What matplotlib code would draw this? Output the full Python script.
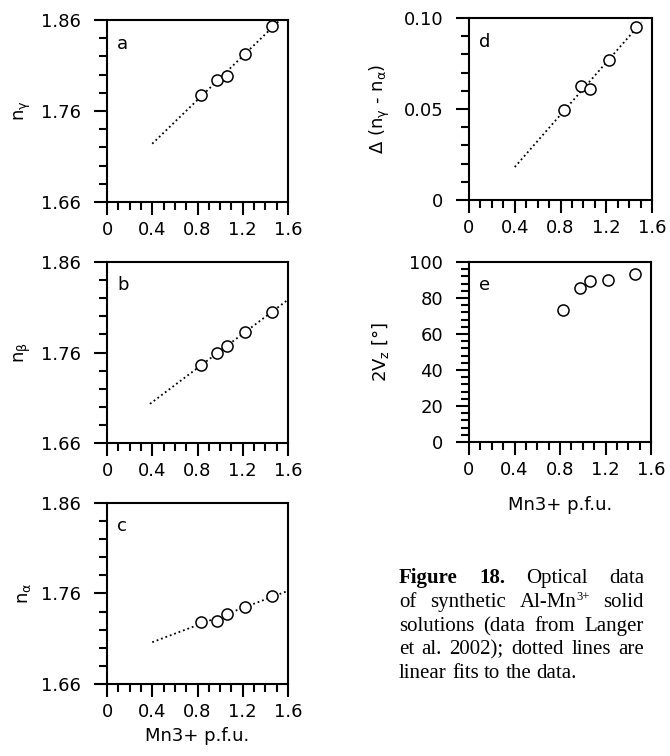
import matplotlib
matplotlib.use("Agg")
import matplotlib.pyplot as plt
import numpy as np
from matplotlib.ticker import MultipleLocator
from matplotlib.transforms import IdentityTransform

plt.rcParams["font.family"] = ["DejaVu Sans"]
plt.rcParams["mathtext.fontset"] = "custom"
plt.rcParams["mathtext.rm"] = "DejaVu Sans"
plt.rcParams["mathtext.it"] = "DejaVu Sans"
plt.rcParams["mathtext.bf"] = "DejaVu Sans:bold"

# Mn3+ per formula unit and optical data (Langer et al. 2002)
mn = [0.83, 0.975, 1.06, 1.22, 1.46]
n_gamma = [1.778, 1.794, 1.799, 1.823, 1.853]
n_beta = [1.746, 1.759, 1.767, 1.783, 1.805]
n_alpha = [1.729, 1.730, 1.7375, 1.745, 1.757]
birefringence = [0.0492, 0.0628, 0.0609, 0.0771, 0.0950]
two_vz = [73.5, 85.7, 89.3, 90.2, 93.5]

x_ticks = [0, 0.4, 0.8, 1.2, 1.6]
x_tick_labels = ["0", "0.4", "0.8", "1.2", "1.6"]
n_ticks = [1.66, 1.76, 1.86]
n_tick_labels = ["1.66", "1.76", "1.86"]

FS = 13
W, H = 670, 756


def px_box(left, right, top, bottom):
    return [left / W, 1 - bottom / H, (right - left) / W, (bottom - top) / H]


fig = plt.figure(figsize=(W / 100, H / 100), dpi=100)

panels = [
    # letter, axes box in pixels, y data, y label, x range of the linear fit, label x
    ("a", px_box(107, 288, 20, 202), n_gamma, r"n$_\gamma$", (0.40, 1.52), -0.41),
    ("b", px_box(107, 288, 262, 443), n_beta, r"n$_\beta$", (0.38, 1.60), -0.41),
    ("c", px_box(107, 288, 503, 684), n_alpha, r"n$_\alpha$", (0.40, 1.60), -0.41),
    ("d", px_box(469, 652, 18, 200), birefringence, r"$\Delta$ (n$_\gamma$ - n$_\alpha$)", (0.40, 1.51), -0.42),
    ("e", px_box(469, 651, 262, 442), two_vz, r"2V$_z$ [°]", None, -0.43),
]


def style_axes(ax):
    for s in ax.spines.values():
        s.set_linewidth(1.5)
    ax.set_xlim(0, 1.6)
    ax.set_xticks(x_ticks)
    ax.set_xticklabels(x_tick_labels)
    ax.xaxis.set_minor_locator(MultipleLocator(0.1))
    ax.tick_params(which="both", direction="out", top=False, right=False,
                   width=1.5, labelsize=FS)
    ax.tick_params(which="major", length=9.5)
    ax.tick_params(which="minor", length=5.5)
    ax.tick_params(axis="x", which="major", pad=4.5)
    ax.tick_params(axis="y", which="major", pad=9)


for letter, box, ys, ylabel, fit_range, label_x in panels:
    ax = fig.add_axes(box)
    style_axes(ax)

    if fit_range is not None:
        slope, icpt = np.polyfit(mn, ys, 1)
        xf = np.array(fit_range)
        ax.plot(xf, slope * xf + icpt, ls=(0, (1, 1.6)), color="black", lw=1.3)

    ax.plot(mn, ys, "o", ms=8, mfc="white", mec="black", mew=1.1, zorder=3)

    if letter in "abc":
        ax.set_ylim(1.66, 1.86)
        ax.set_yticks(n_ticks)
        ax.set_yticklabels(n_tick_labels)
        ax.yaxis.set_minor_locator(MultipleLocator(0.02))
    elif letter == "d":
        ax.set_ylim(0, 0.10)
        ax.set_yticks([0, 0.05, 0.10])
        ax.set_yticklabels(["0", "0.05", "0.10"])
        ax.yaxis.set_minor_locator(MultipleLocator(0.01))
    else:
        ax.set_ylim(0, 100)
        ax.set_yticks([0, 20, 40, 60, 80, 100])
        ax.yaxis.set_minor_locator(MultipleLocator(4))
    ax.set_ylabel(ylabel, fontsize=FS)
    ax.yaxis.set_label_coords(label_x, 0.5)

    ax.text(0.055, 0.843, letter, transform=ax.transAxes, fontsize=FS,
            va="baseline", ha="left")

    if letter == "c":
        ax.set_xlabel("Mn3+ p.f.u.", fontsize=FS)
        ax.xaxis.set_label_coords(0.5, -0.235)
    if letter == "e":
        ax.set_xlabel("Mn3+ p.f.u.", fontsize=FS)
        ax.xaxis.set_label_coords(0.5, -0.30)

# justified caption block
cap_left, cap_right = 399, 644
baselines = [583, 607, 631, 654, 678]
cap_fs = 15
serif = "Liberation Serif"
lines = [
    [[("Figure", "bold")], [("18.", "bold")], [("Optical", "normal")], [("data", "normal")]],
    [[("of", "normal")], [("synthetic", "normal")], [("Al-Mn", "normal"), ("3+", "sup")], [("solid", "normal")]],
    [[(w, "normal")] for w in "solutions (data from Langer".split()],
    [[(w, "normal")] for w in "et al. 2002); dotted lines are".split()],
    [[(w, "normal")] for w in "linear fits to the data.".split()],
]

fig.canvas.draw()
renderer = fig.canvas.get_renderer()


def make_piece(txt, kind):
    size = cap_fs * 0.6 if kind == "sup" else cap_fs
    weight = "bold" if kind == "bold" else "normal"
    return fig.text(0, 0, txt, fontsize=size, family=serif, weight=weight,
                    transform=IdentityTransform(), va="baseline")


for i, line in enumerate(lines):
    words = []
    for word in line:
        pieces = [(make_piece(t, k), k) for t, k in word]
        widths = [p.get_window_extent(renderer).width for p, _ in pieces]
        words.append((pieces, widths))
    total = sum(sum(w) for _, w in words)
    if i == len(lines) - 1:
        gap = 5.2
    else:
        gap = (cap_right - cap_left - total) / (len(words) - 1)
    x = cap_left
    y = H - baselines[i]
    for pieces, widths in words:
        for (p, k), w in zip(pieces, widths):
            p.set_position((x, y + (7 if k == "sup" else 0)))
            x += w
        x += gap

fig.savefig("out.png", dpi=100)
